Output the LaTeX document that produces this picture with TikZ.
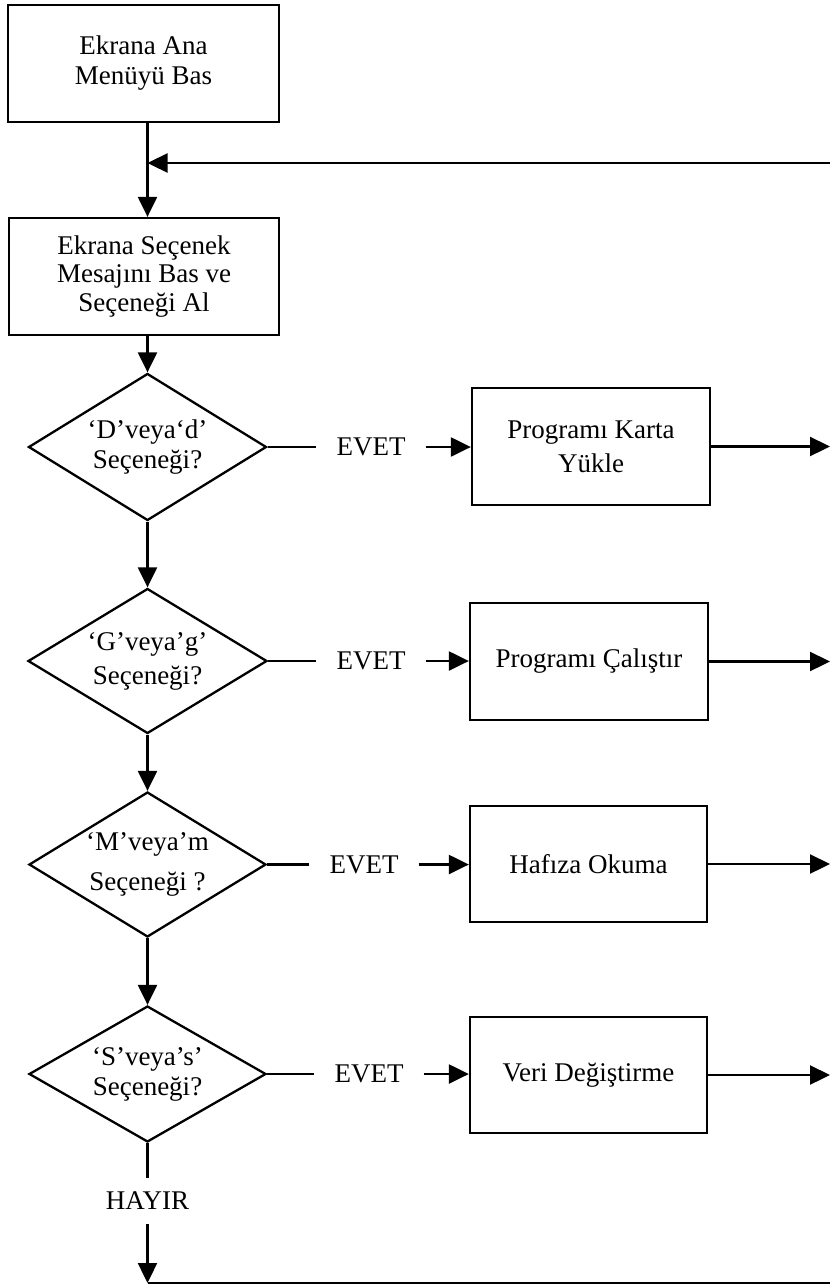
\documentclass[tikz,border=0pt]{standalone}
\usepackage{fontspec}
\setmainfont{Liberation Serif}
\usetikzlibrary{shapes.geometric,arrows.meta}
\begin{document}
\begin{tikzpicture}[x=1pt,y=1pt,
  every node/.style={font=\fontsize{27pt}{30pt}\selectfont},
  line/.style={line width=2.3pt},
  arr/.style={line width=2.3pt,-{Triangle[length=20pt,width=19pt]}},
  procbox/.style={draw,line width=2.3pt,rectangle,inner sep=0pt,align=center},
  decision/.style={draw,line width=2.3pt,diamond,aspect=1.6,inner sep=0pt,align=center},
  yes/.style={inner xsep=20pt,inner ysep=2pt}]
\useasboundingbox (0,0) rectangle (830,-1288);
\coordinate (R) at (830,0);

% left column
\node[procbox,minimum width=271pt,minimum height=117pt] (b1) at (143.5,-63.5) {Ekrana Ana\\Menüyü Bas};
\node[procbox,minimum width=270pt,minimum height=117pt] (b2) at (144,-276.5) {Ekrana Seçenek\\[-1.5pt]Mesajını Bas ve\\[-1.5pt]Seçeneği Al};
\node[decision,minimum width=238pt,minimum height=147pt] (d1) at (147.5,-447) {‘D’veya‘d’\\Seçeneği?};
\node[decision,minimum width=239pt,minimum height=145pt] (d2) at (147.5,-661) {‘G’veya’g’\\[4pt]Seçeneği?};
\node[decision,minimum width=237pt,minimum height=145pt] (d3) at (147.5,-864.5) {‘M’veya’m\\[10pt]Seçeneği ?};
\node[decision,minimum width=237pt,minimum height=136pt] (d4) at (147.5,-1074) {‘S’veya’s’\\Seçeneği?};
\node[inner ysep=14pt] (h) at (147.5,-1201) {HAYIR};

% EVET labels
\node[yes] (e1) at (371,-447) {EVET};
\node[yes] (e2) at (371,-661) {EVET};
\node[yes] (e3) at (364,-864.5) {EVET};
\node[yes] (e4) at (369,-1074) {EVET};

% right boxes
\node[procbox,minimum width=238pt,minimum height=117pt] (p1) at (591,-446.5) {Programı Karta\\[4pt]Yükle};
\node[procbox,minimum width=238pt,minimum height=117pt] (p2) at (589,-661.5) {Programı Çalıştır};
\node[procbox,minimum width=237pt,minimum height=116pt] (p3) at (588.5,-864) {Hafıza Okuma};
\node[procbox,minimum width=237pt,minimum height=116pt] (p4) at (588.5,-1075) {Veri Değiştirme};

% spine
\coordinate (L) at (830,-163);
\draw[arr] (b1.south -| d1.north) -- (b2.north -| d1.north);
\draw[arr] (L) -- (L -| d1.north);
\draw[arr] (b2.south -| d1.north) -- (d1.north);
\draw[arr] (d1.south) -- (d2.north);
\draw[arr] (d2.south) -- (d3.north);
\draw[arr] (d3.south) -- (d4.north);
\draw[line] (d4.south) -- (h.north);
\coordinate (B) at (147.5,-1283);
\draw[arr] (h.south) -- (B);
\draw[line] (B) -- (B -| R);

% yes branches
\foreach \i in {1,2,3,4}{
  \draw[line] (d\i.east) -- (e\i.west);
  \draw[arr] (e\i.east) -- (e\i.east -| p\i.west);
  \draw[arr] (p\i.east) -- (p\i.east -| R);
}
\end{tikzpicture}
\end{document}
